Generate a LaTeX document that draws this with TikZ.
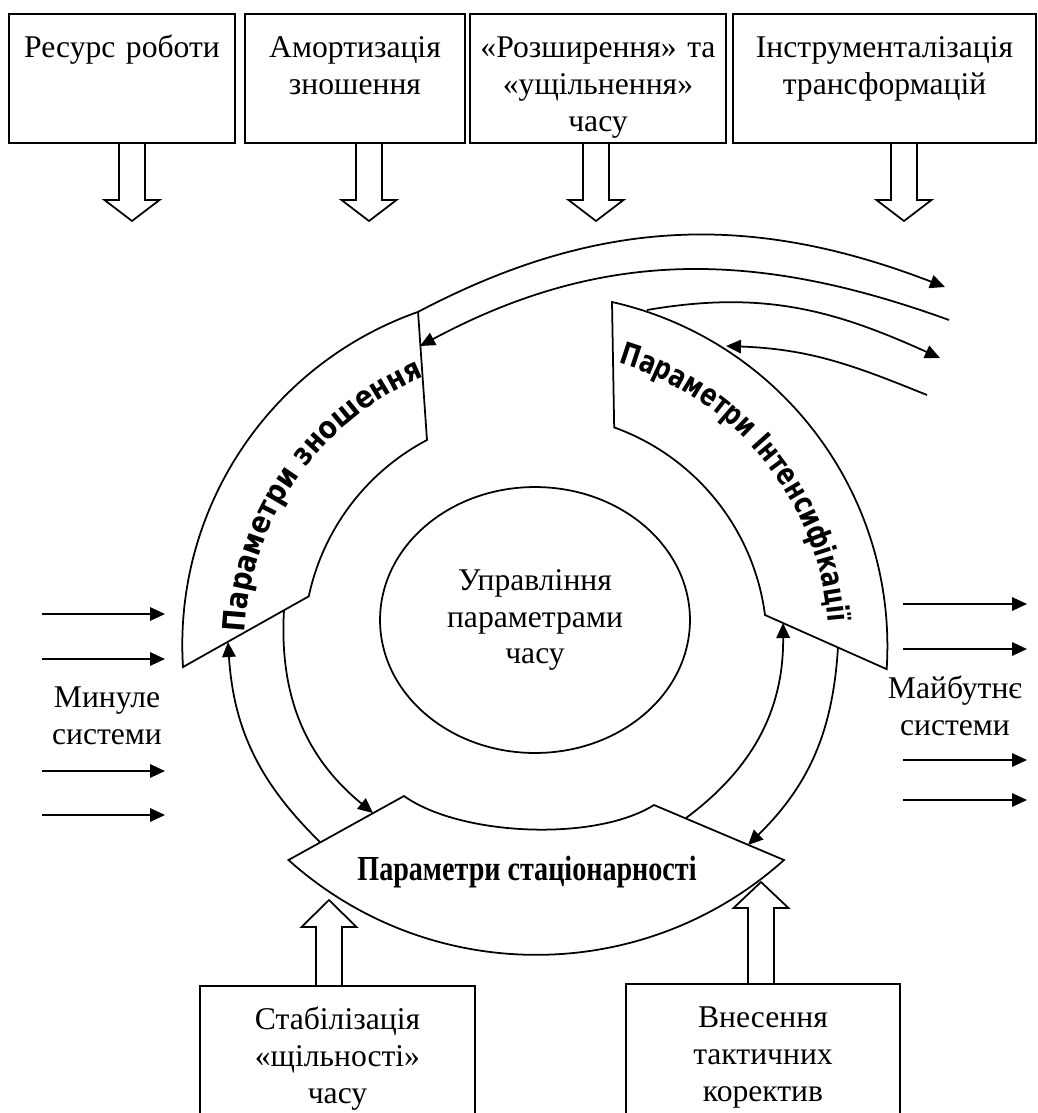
\documentclass[tikz,border=0pt]{standalone}
\usepackage{fontspec}
\setmainfont{Liberation Serif}
\newfontfamily\heavysans{DejaVu Sans Bold}[FakeStretch=0.86]
\newfontfamily\heavysansnarrow{DejaVu Sans Bold}[FakeStretch=0.76]
\newfontfamily\heavyserif{Liberation Serif Bold}[FakeStretch=0.8]
\usetikzlibrary{arrows.meta,calc,shapes.geometric,decorations.text}

\tikzset{
  arr/.style={-{Triangle[length=0.3cm,width=0.27cm]}},
  hollow/.style={to path={
    ($(\tikztotarget)!#1!(\tikztostart)$) coordinate (hb)
    ($(\tikztostart)!0.26cm!90:(\tikztotarget)$) -- ($(hb)!0.26cm!-90:(\tikztostart)$)
    -- ($(hb)!0.55cm!-90:(\tikztostart)$) -- (\tikztotarget)
    -- ($(hb)!0.55cm!90:(\tikztostart)$) -- ($(hb)!0.26cm!90:(\tikztostart)$)
    -- ($(\tikztostart)!0.26cm!-90:(\tikztotarget)$)}},
  hollow/.default=0.42cm,
  topbox/.style={draw,anchor=north,inner sep=0pt,align=center,text height=0.88cm,text depth=1.70cm},
  lowbox/.style={topbox,text depth=2.6cm}
}

\begin{document}
\begin{tikzpicture}[x=0.02cm,y=-0.02cm,line width=1pt,every node/.style={font=\fontsize{18}{21}\selectfont}]
\useasboundingbox (0,0) rectangle (1038,1113);
\clip (0,0) rectangle (1038,1113);

% top boxes
\node[topbox,text width=4.52cm] (res) at (122,13) {Ресурс роботи};
\node[topbox,text width=4.40cm] (amort) at (355,13) {Амортизація\\зношення};
\node[topbox,text width=5.12cm] (rozsh) at (598,13) {«Розширення» та\\«ущільнення»\\часу};
\node[topbox,text width=6.06cm] (instr) at (884.5,13) {Інструменталізація\\трансформацій};
\foreach \n/\x in {res/132,amort/369,rozsh/596,instr/904}{
  \coordinate (\n-out) at (\x,142);
  \coordinate (\n-in) at (\x,221);
  \draw[hollow] (\n-out) to (\n-in);
}

% core
\coordinate (O) at (535,645);
\node[draw,ellipse,minimum width=6.2cm,minimum height=5.32cm,align=center] (core) at (535,620) {Управління\\параметрами\\часу};

% ring segments
\draw (183,667) arc[start angle=-183.6,end angle=-109.4,radius=353] coordinate (zn-top)
  -- (427,440) arc[start angle=-117.8,end angle=-168,radius=231] -- cycle;
\draw (612,302) arc[start angle=-77.3,end angle=3.7,radius=353]
  -- (765,615) arc[start angle=-7.4,end angle=-70.2,radius=231] -- cycle;
\draw (404,796) .. controls (460,836) and (595,842) .. (654,805) -- (784,860)
  arc[start angle=48.1,end angle=131.9,radius=371] -- cycle;
\path[decorate,decoration={text along path,text align=center,
  text={|\heavysans\fontsize{17.5}{17.5}\selectfont|Параметри зношення}}]
  ($(O)+(-190:290)$) arc[start angle=-190,end angle=-100,radius=290];
\path[decorate,decoration={text along path,text align=center,
  text={|\heavysansnarrow\fontsize{17.5}{17.5}\selectfont|Параметри Інтенсифікації}}]
  ($(O)+(-84:294)$) arc[start angle=-84,end angle=6,radius=294];
\node[font=\heavyserif\fontsize{20}{20}\selectfont] (stat) at (527,872) {Параметри стаціонарності};

% arrows between segments
\coordinate (a1s) at (320,842); \coordinate (a1e) at (228,642);
\coordinate (a2s) at (284,610); \coordinate (a2e) at (373,813);
\coordinate (a3s) at (686,818); \coordinate (a3e) at (783,623);
\coordinate (a4s) at (838,647); \coordinate (a4e) at (748,845);
\draw[arr] (a1s) to[bend left=21] (a1e);
\draw[arr] (a2s) to[bend right=27] (a2e);
\draw[arr] (a3s) to[bend right=27] (a3e);
\draw[arr] (a4s) to[bend left=21] (a4e);

% flows at the top
\coordinate (fa-end) at (945,287);
\coordinate (fb-start) at (949,320); \coordinate (zn-side) at (420,346);
\coordinate (in-out) at (647,310); \coordinate (fc-end) at (940,358);
\coordinate (fd-start) at (927,395); \coordinate (in-side) at (726,346);
\draw[arr] (zn-top) .. controls (600,216) and (753,213) .. (fa-end);
\draw[arr] (fb-start) .. controls (756,250) and (603,248) .. (zn-side);
\draw[arr] (in-out) .. controls (763,290) and (834,310) .. (fc-end);
\draw[arr] (fd-start) .. controls (853,365) and (810,349) .. (in-side);

% past and future
\node[align=center] (past) at (107,716) {Минуле\\системи};
\node[align=center] (future) at (955,706) {Майбутнє\\системи};
\foreach \y [count=\i] in {614,659,771,815}{
  \coordinate (past\i) at (42,\y); \coordinate (past\i-e) at (165,\y);
  \draw[arr] (past\i) -- (past\i-e);
}
\foreach \y [count=\i] in {604,649,760,800}{
  \coordinate (fut\i) at (903,\y); \coordinate (fut\i-e) at (1027,\y);
  \draw[arr] (fut\i) -- (fut\i-e);
}

% bottom boxes
\node[lowbox,text width=5.5cm] (stab) at (337.5,985) {Стабілізація\\«щільності»\\часу};
\node[lowbox,text width=5.48cm] (tact) at (763,983) {Внесення\\тактичних\\коректив};
\coordinate (stab-out) at (329,985); \coordinate (stab-in) at (329,900);
\coordinate (tact-out) at (761,983); \coordinate (tact-in) at (761,882);
\draw[hollow=0.54cm] (stab-out) to (stab-in);
\draw[hollow=0.52cm] (tact-out) to (tact-in);
\end{tikzpicture}
\end{document}
